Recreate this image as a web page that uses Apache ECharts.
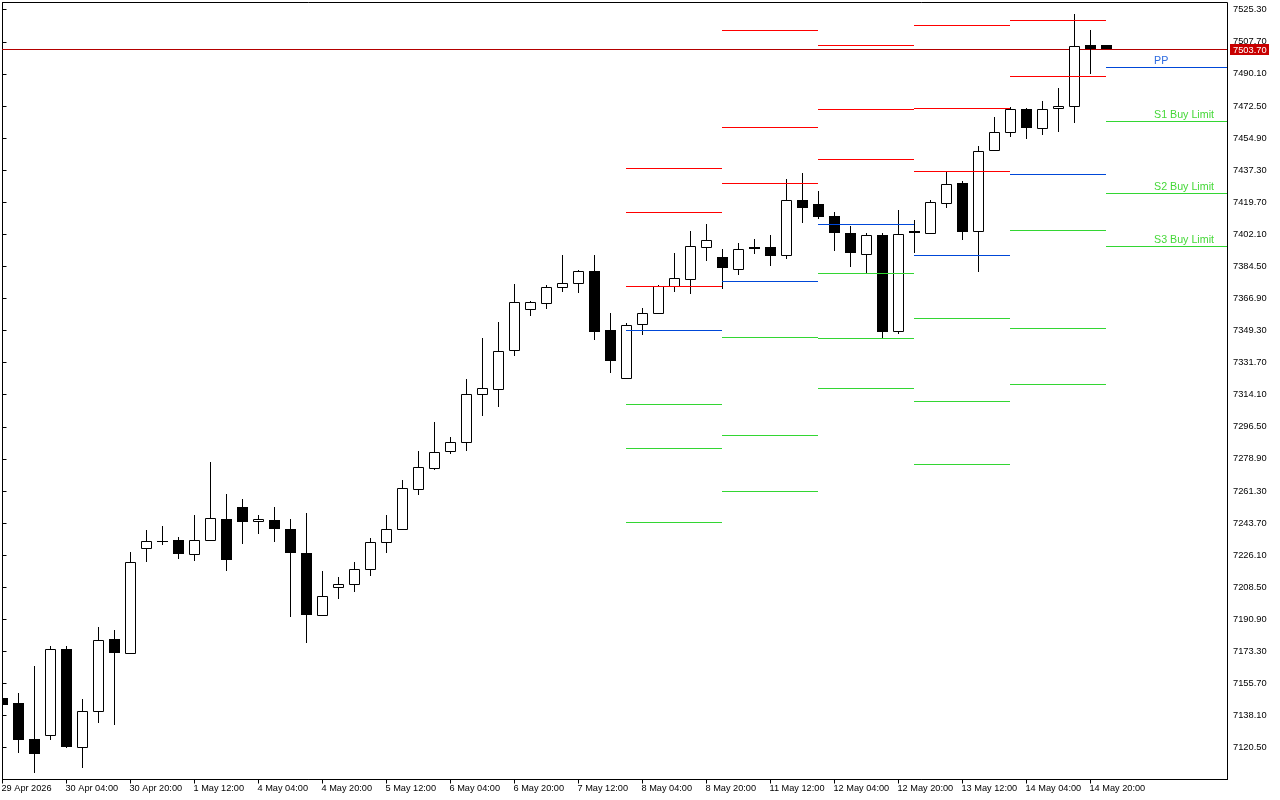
<!DOCTYPE html>
<html>
<head>
<meta charset="utf-8">
<style>html,body{margin:0;padding:0;background:#fff}#c{width:1280px;height:800px}</style>
<script src="https://cdn.jsdelivr.net/npm/echarts@6/dist/echarts.min.js"></script>
</head>
<body>
<div id="c"></div>
<script>
const opens = [7147.6,7144.5,7125.1,7127.3,7174.5,7120.7,7140.5,7179.9,7172.2,7229.9,
7233.6,7234.3,7226.6,7234.3,7245.8,7252.4,7244.7,7245.2,7240.3,7227.1,
7193.1,7208.5,7210.1,7218.3,7233.2,7240.3,7262.2,7273.7,7283.1,7288.0,
7314.3,7317.1,7338.5,7361.0,7364.2,7373.0,7375.2,7381.9,7349.1,7323.1,
7352.7,7358.8,7373.6,7377.4,7395.0,7389.1,7382.9,7395.1,7395.1,7390.6,
7420.9,7418.2,7412.1,7402.8,7391.1,7401.7,7348.9,7403.9,7402.6,7419.1,
7429.7,7403.7,7448.2,7458.0,7470.8,7460.2,7471.2,7472.3,7505.9,7505.4];
const highs = [7148.3,7150.5,7165.3,7176.1,7176.1,7146.7,7186.5,7185.0,7227.7,7239.4,
7242.1,7235.9,7247.6,7276.7,7259.6,7256.9,7248.1,7252.5,7245.9,7248.7,
7217.4,7214.1,7222.3,7235.5,7247.6,7266.8,7282.7,7299.1,7290.4,7322.2,
7344.7,7353.8,7374.8,7365.5,7374.1,7390.7,7382.5,7390.2,7358.4,7352.9,
7361.5,7374.1,7391.8,7403.9,7407.7,7394.0,7396.8,7399.0,7401.7,7431.9,
7435.2,7425.3,7413.8,7406.1,7402.8,7402.8,7415.4,7409.9,7420.9,7436.6,
7431.3,7450.0,7465.9,7471.8,7470.9,7474.7,7482.3,7522.9,7514.1,7505.4];
const lows = [7142.8,7117.2,7106.2,7124.3,7119.8,7109.0,7133.7,7132.6,7172.0,7222.0,
7231.3,7223.6,7222.5,7233.5,7217.0,7231.8,7237.3,7232.9,7191.8,7177.5,
7192.3,7201.7,7205.5,7214.3,7226.9,7239.5,7258.7,7272.4,7281.2,7282.9,
7302.0,7307.0,7335.0,7356.9,7360.7,7370.1,7369.5,7343.7,7325.6,7323.0,
7346.5,7358.0,7370.1,7369.0,7387.1,7371.7,7379.4,7390.9,7384.3,7388.2,
7407.9,7410.1,7392.5,7383.8,7380.7,7345.0,7347.0,7391.8,7401.9,7416.0,
7398.6,7381.0,7448.1,7455.1,7454.0,7456.2,7457.8,7462.8,7489.6,7503.7];
const closes = [7143.5,7124.7,7116.7,7174.5,7120.5,7140.5,7179.4,7172.0,7222.2,7233.7,
7233.8,7226.4,7234.3,7246.3,7223.1,7243.9,7245.8,7240.1,7226.9,7192.9,
7203.5,7210.1,7218.3,7233.2,7240.3,7262.8,7274.3,7282.5,7288.0,7314.3,
7317.6,7337.9,7364.8,7364.8,7373.0,7375.2,7381.8,7348.1,7332.2,7352.2,
7358.8,7373.6,7378.0,7395.5,7398.8,7383.2,7393.9,7394.0,7389.8,7420.7,
7416.1,7411.2,7402.4,7391.4,7401.5,7348.1,7402.1,7402.4,7419.6,7429.5,
7403.0,7447.6,7458.0,7470.7,7460.0,7470.7,7472.3,7505.2,7503.7,7503.7];

const periodStarts = [39,45,51,57,63,69];
const redLevels = [
  [7438.3,7414.2,7373.6],
  [7514.0,7460.8,7430.1],
  [7505.8,7470.7,7443.2],
  [7516.7,7471.2,7436.6],
  [7519.5,7488.8],
  []
];
const blueLevels = [7349.4,7376.3,7407.6,7390.6,7435.0,7493.7];
const greenLevels = [
  [7308.8,7284.7,7244.1],
  [7345.6,7291.8,7261.1],
  [7380.7,7345.0,7317.6],
  [7356.0,7310.5,7275.9],
  [7404.3,7350.5,7319.8],
  [7464.1,7424.6,7395.5]
];
const levelNames = ["PP","S1 Buy Limit","S2 Buy Limit","S3 Buy Limit"];
const lastPrice = 7503.7;
const yTicks = [7525.3,7507.7,7490.1,7472.5,7454.9,7437.3,7419.7,7402.1,7384.5,7366.9,7349.3,7331.7,
  7314.1,7296.5,7278.9,7261.3,7243.7,7226.1,7208.5,7190.9,7173.3,7155.7,7138.1,7120.5];
const xTickLabels = ["29 Apr 2026","30 Apr 04:00","30 Apr 20:00","1 May 12:00","4 May 04:00","4 May 20:00",
  "5 May 12:00","6 May 04:00","6 May 20:00","7 May 12:00","8 May 04:00","8 May 20:00",
  "11 May 12:00","12 May 04:00","12 May 20:00","13 May 12:00","14 May 04:00","14 May 20:00"];

const FONT = '"Liberation Sans", Arial, sans-serif';
const RED = '#ff0000', BLUE = '#0048d8', GREEN = '#33d633';
const X_MAX = 1225 / 16;
const xTicks = xTickLabels.map((_, k) => k * 4);

const candleData = opens.map((o, i) => [i, o, highs[i], lows[i], closes[i]]);

const levelData = [];
periodStarts.forEach((s, p) => {
  const e = p + 1 < periodStarts.length ? periodStarts[p + 1] : X_MAX;
  redLevels[p].forEach(v => levelData.push([s, e, v, RED, '']));
  levelData.push([s, e, blueLevels[p], BLUE, p === periodStarts.length - 1 ? levelNames[0] : '']);
  greenLevels[p].forEach((v, k) => levelData.push([s, e, v, GREEN, p === periodStarts.length - 1 ? levelNames[k + 1] : '']));
});

function renderCandle(params, api) {
  const i = api.value(0), o = api.value(1), h = api.value(2), l = api.value(3), c = api.value(4);
  const x = Math.floor(api.coord([i, o])[0]);
  const row = v => Math.floor(api.coord([i, v])[1]);
  const rH = row(h), rL = row(l), up = c >= o;
  const rT = row(Math.max(o, c)), rB = row(Math.min(o, c));
  const kids = [{
    type: 'rect', shape: { x: x, y: rH, width: 1, height: Math.max(1, rL - rH) },
    style: { fill: '#000' }
  }];
  if (up) {
    if (rB <= rT) {
      kids.push({ type: 'rect', shape: { x: x - 5, y: rT, width: 11, height: 1 }, style: { fill: '#000' } });
    } else {
      kids.push({
        type: 'rect', shape: { x: x - 4.5, y: rT + 0.5, width: 10, height: rB - rT },
        style: { fill: '#fff', stroke: '#000', lineWidth: 1 }
      });
    }
  } else {
    kids.push({
      type: 'rect', shape: { x: x - 5, y: rT, width: 11, height: Math.max(1, rB - rT) },
      style: { fill: '#000' }
    });
  }
  return { type: 'group', children: kids };
}

function renderLevel(params, api) {
  const s = api.value(0), e = api.value(1), v = api.value(2);
  const p0 = api.coord([s, v]), p1 = api.coord([e, v]);
  const x0 = Math.floor(p0[0]), x1 = Math.floor(p1[0]), y = Math.floor(p0[1]);
  const d = levelData[params.dataIndex];
  const kids = [{ type: 'rect', shape: { x: x0, y: y, width: x1 - x0, height: 1 }, style: { fill: d[3] } }];
  if (d[4]) {
    const tx = api.coord([72, v])[0];
    kids.push({
      type: 'text', x: Math.floor(tx), y: y,
      style: { text: d[4], fill: d[3] === BLUE ? '#2c6be0' : '#45d838', font: '10.7px ' + FONT, textAlign: 'left', textVerticalAlign: 'bottom' }
    });
  }
  return { type: 'group', children: kids };
}

function renderPrice(params, api) {
  const v = api.value(0);
  const y = Math.floor(api.coord([0, v])[1]);
  const x0 = api.coord([0, v])[0];
  const x1 = api.coord([X_MAX, v])[0];
  return {
    type: 'group', children: [
      { type: 'rect', shape: { x: Math.floor(x0), y: y, width: Math.floor(x1) - Math.floor(x0), height: 1 }, style: { fill: '#b40000' } },
      { type: 'rect', shape: { x: Math.floor(x1) + 3, y: y - 5, width: 39, height: 11 }, style: { fill: '#c80000' } },
      {
        type: 'text', x: Math.floor(x1) + 6, y: y + 1,
        style: { text: v.toFixed(2), fill: '#fff', font: '9.3px ' + FONT, textAlign: 'left', textVerticalAlign: 'middle' }
      }
    ]
  };
}

const chart = echarts.init(document.getElementById('c'), null, { renderer: 'canvas', width: 1280, height: 800 });
chart.setOption({
  animation: false,
  backgroundColor: '#ffffff',
  grid: { left: 2.5, top: 2.5, width: 1225, height: 777, outerBoundsMode: 'none', show: true, borderColor: '#000', borderWidth: 1, backgroundColor: '#fff' },
  xAxis: {
    type: 'value', min: 0, max: X_MAX, splitLine: { show: false },
    axisLine: { show: true, lineStyle: { color: '#000', width: 1 } },
    axisTick: { show: true, customValues: xTicks, length: 4, lineStyle: { color: '#000', width: 1 } },
    axisLabel: {
      show: true, customValues: xTicks, align: 'left', margin: 4, padding: [0, 0, 0, -1], color: '#000',
      fontFamily: FONT, fontSize: 9.2, hideOverlap: false,
      formatter: v => xTickLabels[Math.round(v / 4)]
    }
  },
  yAxis: {
    type: 'value', position: 'right', min: 7103.06, max: 7529.23, splitLine: { show: false },
    axisLine: { show: true, lineStyle: { color: '#000', width: 1 } },
    axisTick: { show: true, customValues: yTicks, length: 4, lineStyle: { color: '#000', width: 1 } },
    axisLabel: {
      show: true, customValues: yTicks, margin: 5.5, padding: [2, 0, 0, 0], color: '#000',
      fontFamily: FONT, fontSize: 9.3, hideOverlap: false,
      formatter: v => v.toFixed(2)
    }
  },
  series: [
    {
      type: 'custom', name: 'last', z: 2, clip: false, silent: true,
      data: [[lastPrice]], encode: { y: 0 }, renderItem: renderPrice
    },
    {
      type: 'custom', name: 'candles', z: 3, clip: true, silent: true,
      data: candleData, encode: { x: 0, y: [1, 2, 3, 4] }, renderItem: renderCandle
    },
    {
      type: 'custom', name: 'levels', z: 4, clip: false, silent: true,
      data: levelData.map(d => [d[0], d[1], d[2]]), encode: { x: [0, 1], y: 2 }, renderItem: renderLevel
    }
  ]
});
</script>
</body>
</html>
